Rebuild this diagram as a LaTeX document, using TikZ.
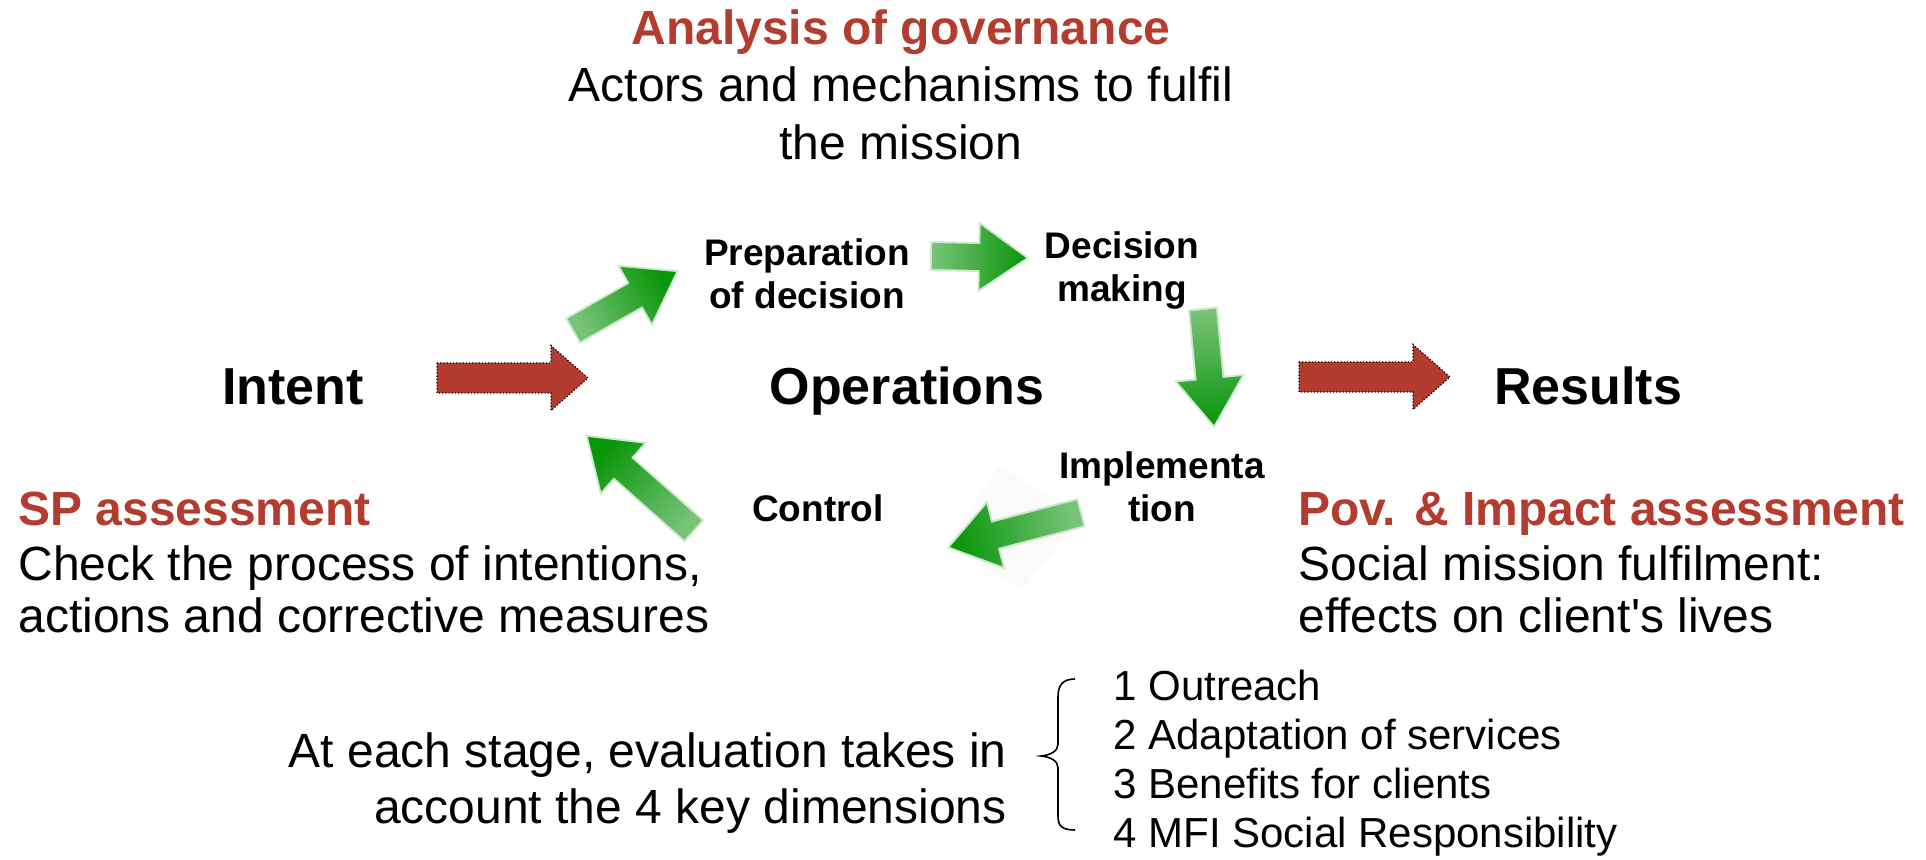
\documentclass[tikz,border=0pt]{standalone}
\usepackage{fontspec}
\setmainfont{Liberation Sans}[Ligatures=TeXOff]
\usetikzlibrary{calc, positioning}

\definecolor{brick}{RGB}{180,60,46}
\definecolor{leafhead}{RGB}{10,150,10}
\definecolor{leaftail}{RGB}{120,195,120}

% block arrow from #2 (tail) to #3 (tip): shaft half width #4, head half width #5, head length #6
\newcommand{\blockarrow}[6]{%
  \coordinate (hb) at ($(#3)!#6!(#2)$);
  \path[#1] ($(#2)!#4!90:(#3)$) -- ($(hb)!#4!90:(#3)$) -- ($(hb)!#5!90:(#3)$) -- (#3)
    -- ($(hb)!#5!-90:(#3)$) -- ($(hb)!#4!-90:(#3)$) -- ($(#2)!#4!-90:(#3)$) -- cycle;
}

\tikzset{
  bigword/.style={inner sep=0pt, font=\fontsize{26}{30}\selectfont\bfseries},
  stagelabel/.style={inner sep=0pt, align=center, font=\fontsize{18.5}{21.5}\selectfont\bfseries},
  heading/.style={inner sep=0pt, text=brick, font=\fontsize{24}{28}\selectfont\bfseries},
  bodytext/.style={inner sep=0pt, font=\fontsize{24}{26}\selectfont},
  redarrow/.style={fill=brick, draw=black, densely dotted, line width=0.6pt},
  greenarrow/.style={shade, top color=leafhead, bottom color=leaftail, shading angle=#1,
    preaction={draw=leaftail, line width=2pt, opacity=0.35}, line join=round},
}

\begin{document}
\begin{tikzpicture}[x=0.5pt, y=-0.5pt]
    \useasboundingbox (0,0) rectangle (1926,860);

    % Governance block on top (multi-line nodes sit on their last baseline)
    \node[heading, anchor=base] (govhead) at (901,45) {Analysis of governance};
    \node[bodytext, font=\fontsize{24}{29}\selectfont, align=center, anchor=base] (govtext) at (901,160) {Actors and mechanisms to fulfil\\the mission};

    % Main line
    \node[bigword, anchor=base] (intent) at (293,405) {Intent};
    \node[bigword, anchor=base] (ops) at (907,405) {Operations};
    \node[bigword, anchor=base] (results) at (1588,405) {Results};

    % Stages of the cycle
    \node[stagelabel, anchor=base] (prep) at (807,309) {Preparation\\of decision};
    \node[stagelabel, anchor=base] (decide) at (1122,302) {Decision\\making};
    \node[stagelabel, anchor=base] (impl) at (1162,522) {Implementa\\tion};
    \node[stagelabel, anchor=base] (control) at (818,522) {Control};

    % Assessments
    \node[heading, anchor=base west] (sphead) at (18,525) {SP assessment};
    \node[bodytext, align=left, anchor=base west] (sptext) at (18,632) {Check the process of intentions,\\actions and corrective measures};
    \node[heading, anchor=base west] (povhead) at (1298,525) {Pov. \& Impact assessment};
    \node[bodytext, align=left, anchor=base west] (povtext) at (1298,632) {Social mission fulfilment:\\effects on client's lives};

    % Key dimensions
    \node[bodytext, font=\fontsize{24}{28}\selectfont, align=right, anchor=base east] (stage) at (1007,823) {At each stage, evaluation takes in\\account the 4 key dimensions};
    \node[inner sep=0pt, font=\fontsize{21}{24.5}\selectfont, align=left, anchor=base west] (dims) at (1113,847) {1 Outreach\\2 Adaptation of services\\3 Benefits for clients\\4 MFI Social Responsibility};
    \draw[line width=0.8pt] (1075,679) .. controls (1062,679) and (1058,686) .. (1058,697) -- (1058,744)
        .. controls (1058,751) and (1051,755) .. (1041,756) .. controls (1051,757) and (1058,761) .. (1058,768)
        -- (1058,816) .. controls (1058,826) and (1062,830) .. (1075,830);

    % Red arrows
    \coordinate (r1a) at (437,378); \coordinate (r1b) at (588,378);
    \coordinate (r2a) at (1299,377); \coordinate (r2b) at (1450,377);
    \blockarrow{redarrow}{r1a}{r1b}{7.5pt}{16.25pt}{18.5pt}
    \blockarrow{redarrow}{r2a}{r2b}{7.5pt}{16.25pt}{18.5pt}

    % Green arrows of the cycle
    \fill[black!2] (998,467) -- (1083,513) -- (1023,590) -- (948,545) -- cycle;
    \coordinate (g1a) at (574,330); \coordinate (g1b) at (676,272);
    \coordinate (g2a) at (932,256); \coordinate (g2b) at (1026,258);
    \coordinate (g3a) at (1203,310); \coordinate (g3b) at (1214,425);
    \coordinate (g4a) at (1080,513); \coordinate (g4b) at (950,547);
    \coordinate (g5a) at (693,530); \coordinate (g5b) at (588,437);
    \blockarrow{greenarrow=-60}{g1a}{g1b}{6.5pt}{16pt}{23pt}
    \blockarrow{greenarrow=-91}{g2a}{g2b}{6.5pt}{16pt}{23pt}
    \blockarrow{greenarrow=-175}{g3a}{g3b}{6.5pt}{16pt}{23pt}
    \blockarrow{greenarrow=105}{g4a}{g4b}{6.5pt}{16pt}{23pt}
    \blockarrow{greenarrow=48.5}{g5a}{g5b}{6.5pt}{16pt}{23pt}
\end{tikzpicture}
\end{document}
